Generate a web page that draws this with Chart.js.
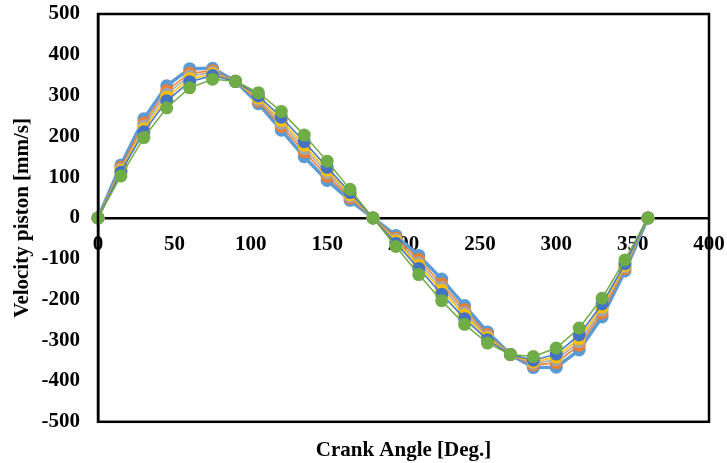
<!DOCTYPE html>
<html>
<head>
<meta charset="utf-8">
<title>Velocity piston</title>
<script src="https://cdn.jsdelivr.net/npm/chart.js@4.4.1/dist/chart.umd.min.js"></script>
<style>
    html, body { margin: 0; padding: 0; background: #fff; }
    #wrap { width: 727px; height: 463px; }
</style>
</head>
<body>
<div id="wrap"><canvas id="velocityChart"></canvas></div>
<script>
// crank angle in degrees
const angles = [0, 15, 30, 45, 60, 75, 90, 105, 120, 135, 150, 165, 180,
    195, 210, 225, 240, 255, 270, 285, 300, 315, 330, 345, 360];

// piston velocity [mm/s]
const series1 = [0, 130, 243, 324, 366, 367, 335, 280, 215, 150, 92, 43, 0,
    -43, -92, -150, -215, -280, -335, -367, -366, -324, -243, -130, 0];
const series2 = [0, 124, 233, 312, 355, 361, 335, 286, 225, 162, 102, 49, 0,
    -49, -102, -162, -225, -286, -335, -361, -355, -312, -233, -124, 0];
const series3 = [0, 120, 226, 304, 348, 357, 335, 290, 232, 170, 110, 53, 0,
    -53, -110, -170, -232, -290, -335, -357, -348, -304, -226, -120, 0];
const series4 = [0, 116, 218, 296, 341, 353, 335, 294, 239, 178, 117, 57, 0,
    -57, -117, -178, -239, -294, -335, -353, -341, -296, -218, -116, 0];
const series5 = [0, 112, 211, 287, 334, 349, 335, 299, 247, 187, 124, 62, 0,
    -62, -124, -187, -247, -299, -335, -349, -334, -287, -211, -112, 0];
const series6 = [0, 103, 197, 270, 319, 340, 335, 307, 261, 203, 139, 70, 0,
    -70, -139, -203, -261, -307, -335, -340, -319, -270, -197, -103, 0];

const xTicks = [0, 50, 100, 150, 200, 250, 300, 350, 400];
const yTicks = [-500, -400, -300, -200, -100, 0, 100, 200, 300, 400, 500];

document.addEventListener('DOMContentLoaded', function() {
    const font = { family: '"Liberation Serif", "Times New Roman", serif', size: 21, weight: 'bold' };

    function makeSet(name, values, color, width, order) {
        return {
            label: name,
            data: angles.map((a, i) => ({ x: a, y: values[i] })),
            borderColor: color,
            backgroundColor: color,
            borderWidth: width,
            pointRadius: 6.5,
            pointBorderWidth: 0,
            pointBackgroundColor: color,
            tension: 0,
            clip: false,
            order: order
        };
    }

    // box around the plot area
    const frame = {
        id: 'frame',
        afterDraw(chart) {
            const a = chart.chartArea;
            const ctx = chart.ctx;
            ctx.save();
            ctx.strokeStyle = '#000';
            ctx.lineWidth = 2.5;
            ctx.strokeRect(a.left, a.top, a.right - a.left, a.bottom - a.top);
            ctx.restore();
        }
    };

    new Chart(document.getElementById('velocityChart'), {
        type: 'line',
        data: {
            datasets: [
                makeSet('Series1', series1, '#5B9BD5', 3.5, 6),
                makeSet('Series2', series2, '#ED7D31', 1.5, 5),
                makeSet('Series3', series3, '#A5A5A5', 1.5, 4),
                makeSet('Series4', series4, '#FFC000', 1.5, 3),
                makeSet('Series5', series5, '#4472C4', 1.5, 2),
                makeSet('Series6', series6, '#70AD47', 1.5, 1)
            ]
        },
        options: {
            responsive: true,
            maintainAspectRatio: false,
            animation: false,
            layout: { padding: { top: 14, right: 18, bottom: 0, left: 0 } },
            plugins: {
                legend: { display: false },
                tooltip: { enabled: false },
                title: {
                    display: true,
                    position: 'bottom',
                    fullSize: false,
                    text: 'Crank Angle [Deg.]',
                    color: '#000',
                    font: font,
                    padding: { top: 16, bottom: 0 }
                }
            },
            scales: {
                x: {
                    type: 'linear',
                    position: { y: 0 },
                    min: 0,
                    max: 400,
                    afterBuildTicks: axis => { axis.ticks = xTicks.map(v => ({ value: v })); },
                    afterFit: axis => { axis.paddingLeft = 0; axis.paddingRight = 0; },
                    grid: { display: false, drawTicks: false },
                    border: { display: true, color: '#000', width: 2.5 },
                    ticks: { color: '#000', font: font, padding: 14, maxRotation: 0 }
                },
                y: {
                    type: 'linear',
                    min: -500,
                    max: 500,
                    afterBuildTicks: axis => { axis.ticks = yTicks.map(v => ({ value: v })); },
                    afterFit: axis => { axis.width = 98; axis.paddingTop = 0; axis.paddingBottom = 0; },
                    grid: { display: false, drawTicks: false },
                    border: { display: true, color: '#000', width: 2.5 },
                    ticks: { color: '#000', font: font, padding: 18 },
                    title: {
                        display: true,
                        text: 'Velocity piston [mm/s]',
                        color: '#000',
                        font: font,
                        padding: { top: 10, bottom: 0 }
                    }
                }
            }
        },
        plugins: [frame]
    });
});
</script>
</body>
</html>
